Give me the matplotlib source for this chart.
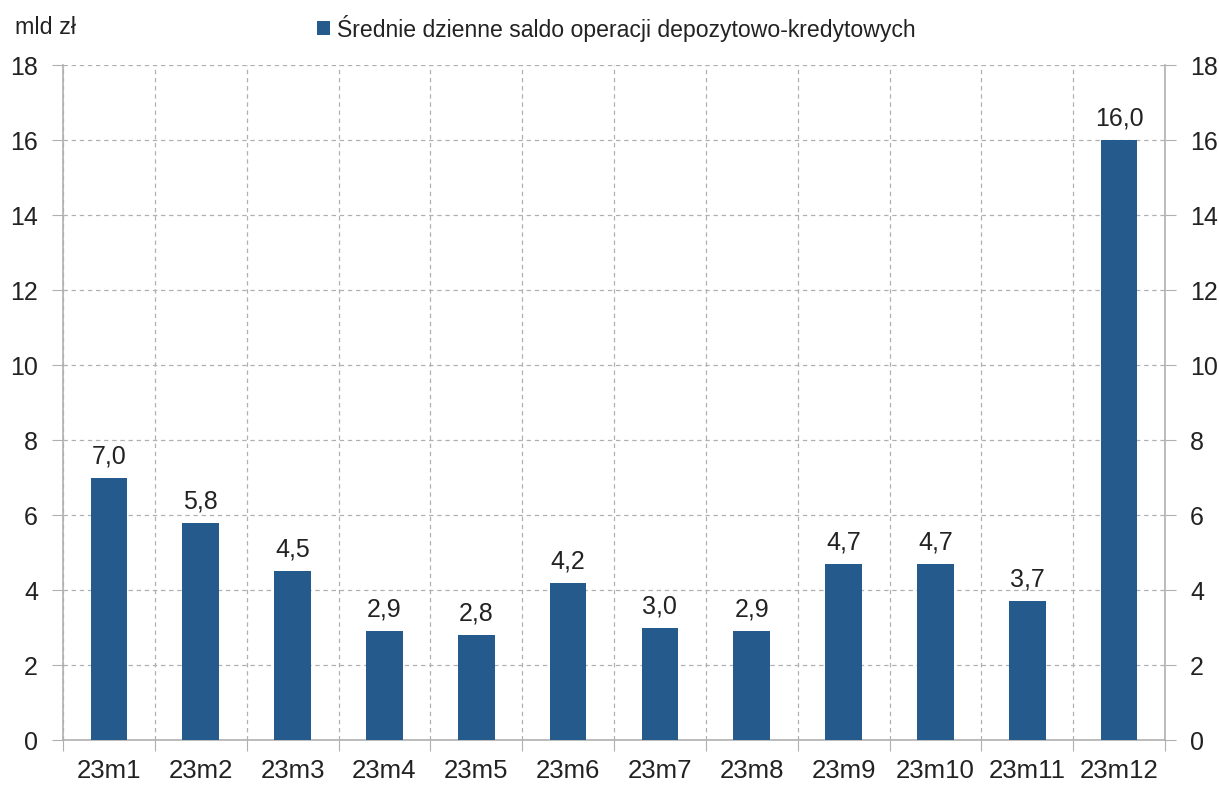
import matplotlib.pyplot as plt
import numpy as np

plt.rcParams['font.family'] = ['Liberation Sans', 'DejaVu Sans']

# data
months = ['23m1', '23m2', '23m3', '23m4', '23m5', '23m6',
          '23m7', '23m8', '23m9', '23m10', '23m11', '23m12']
saldo = [7.0, 5.8, 4.5, 2.9, 2.8, 4.2, 3.0, 2.9, 4.7, 4.7, 3.7, 16.0]
series_name = 'Średnie dzienne saldo operacji depozytowo-kredytowych'

bar_color = '#245A8C'
gray = '#B0B0B0'
txt = '#222222'

fig = plt.figure(figsize=(12.19, 7.85), dpi=100)
ax = fig.add_axes([0.0517, 0.0573, 0.9040, 0.8597])

x = np.arange(len(months))
ax.bar(x, saldo, width=0.4, color=bar_color, zorder=3, label=series_name)
for xi, v in zip(x, saldo):
    ax.text(xi, v + 0.25, f'{v:.1f}'.replace('.', ','), ha='center', va='bottom',
            fontsize=18, color=txt)

ax.set_xlim(-0.5, len(months) - 0.5)
ax.set_ylim(0, 18)
ax.set_yticks(range(0, 19, 2))

# category boundaries as major ticks, labels on minor ticks
ax.set_xticks(np.arange(-0.5, len(months), 1))
ax.set_xticklabels([])
ax.set_xticks(x, minor=True)
ax.set_xticklabels(months, minor=True)
ax.tick_params(axis='x', which='major', length=8, color=gray, direction='out')
ax.tick_params(axis='x', which='minor', length=0, labelsize=18.5, labelcolor=txt, pad=14)
ax.tick_params(axis='y', length=8, color=gray, labelsize=18, labelcolor=txt, pad=10,
               right=True, labelright=True)

ax.grid(True, which='major', color=gray, linestyle=(0, (3.5, 3)), linewidth=0.9, zorder=0)
ax.set_axisbelow(True)

for s in ['left', 'right', 'bottom']:
    ax.spines[s].set_color(gray)
    ax.spines[s].set_linewidth(1.2)
ax.spines['top'].set_visible(False)

fig.text(15 / 1219, 1 - 28 / 785, 'mld zł', fontsize=16.8, color=txt, va='center', ha='left')
fig.legend(loc='center left', bbox_to_anchor=(308 / 1219, 1 - 28 / 785), frameon=False,
           fontsize=16.6, handlelength=0.55, handleheight=0.55, handletextpad=0.3,
           labelcolor=txt, borderaxespad=0)

fig.savefig('out.png', dpi=100)
